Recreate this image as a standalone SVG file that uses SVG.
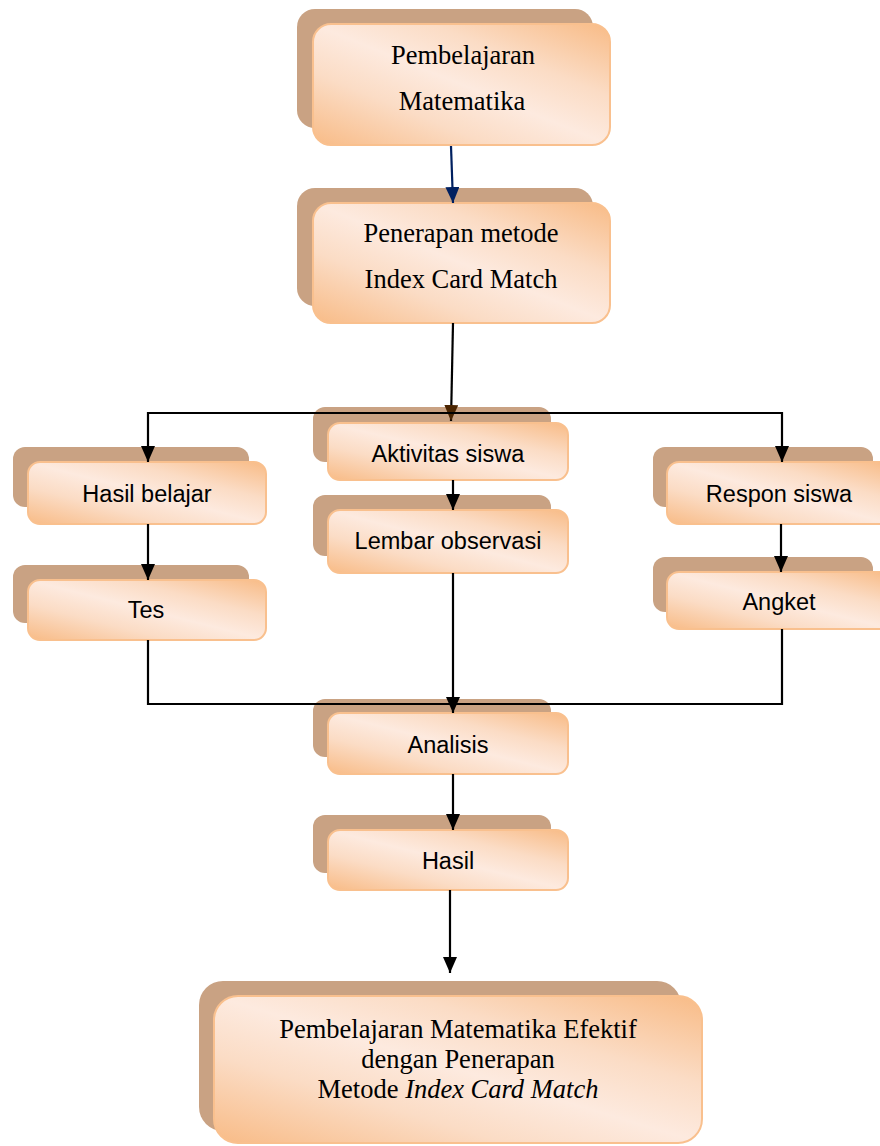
<svg xmlns="http://www.w3.org/2000/svg" width="880" height="1146" viewBox="0 0 880 1146">
<defs>
<linearGradient id="peach" x1="0" y1="1" x2="1" y2="0">
<stop offset="0" stop-color="#f8bb86"/>
<stop offset="0.3" stop-color="#fbdcc5"/>
<stop offset="0.5" stop-color="#fdeadf"/>
<stop offset="0.7" stop-color="#fbdcc5"/>
<stop offset="1" stop-color="#f8bb86"/>
</linearGradient>
<marker id="ah" markerUnits="userSpaceOnUse" markerWidth="16" markerHeight="14" refX="16" refY="7" orient="auto">
<path d="M0,0 L16,7 L0,14 z" fill="#000"/>
</marker>
<marker id="ahBlue" markerUnits="userSpaceOnUse" markerWidth="16" markerHeight="14" refX="16" refY="7" orient="auto">
<path d="M0,0 L16,7 L0,14 z" fill="#002060"/>
</marker>
<marker id="ahBrown" markerUnits="userSpaceOnUse" markerWidth="16" markerHeight="14" refX="16" refY="7" orient="auto">
<path d="M0,0 L16,7 L0,14 z" fill="#4a2400"/>
</marker>
</defs>
<style>
.sh{fill:#c9a283;}
.fr{fill:url(#peach);stroke:#f9c08e;stroke-width:2;}
.serif{font-family:"Liberation Serif","Times New Roman",serif;font-size:26.5px;fill:#000;text-anchor:middle;}
.sans{font-family:"Liberation Sans",Arial,sans-serif;font-size:23.5px;fill:#000;text-anchor:middle;}
.ln{fill:none;stroke:#000;stroke-width:2.2;}
</style>

<g id="n1">
<rect class="sh" x="297" y="9" width="296" height="119" rx="18"/>
<rect class="fr" x="313" y="24" width="297" height="121" rx="18"/>
<text class="serif" x="463" y="64">Pembelajaran</text>
<text class="serif" x="462" y="110">Matematika</text>
</g>

<g id="n2">
<rect class="sh" x="297" y="188" width="296" height="118" rx="18"/>
<rect class="fr" x="313" y="203" width="297" height="120" rx="18"/>
<text class="serif" x="461" y="242">Penerapan metode</text>
<text class="serif" x="461" y="288">Index Card Match</text>
</g>

<g id="n_aktivitas">
<rect class="sh" x="313" y="407" width="238" height="55" rx="12"/>
<rect class="fr" x="328" y="423" width="240" height="57" rx="12"/>
<text class="sans" x="448" y="462">Aktivitas siswa</text>
</g>

<g id="n_lembar">
<rect class="sh" x="313" y="495" width="238" height="61" rx="12"/>
<rect class="fr" x="328" y="510" width="240" height="63" rx="12"/>
<text class="sans" x="448" y="549">Lembar observasi</text>
</g>

<g id="n_hasilbelajar">
<rect class="sh" x="13" y="447" width="236" height="60" rx="12"/>
<rect class="fr" x="28" y="462" width="238" height="62" rx="12"/>
<text class="sans" x="147" y="502">Hasil belajar</text>
</g>

<g id="n_tes">
<rect class="sh" x="13" y="565" width="236" height="58" rx="12"/>
<rect class="fr" x="28" y="580" width="238" height="60" rx="12"/>
<text class="sans" x="146" y="618">Tes</text>
</g>

<g id="n_respon">
<rect class="sh" x="653" y="447" width="220" height="60" rx="12"/>
<rect class="fr" x="667" y="462" width="224" height="62" rx="12"/>
<text class="sans" x="779" y="502">Respon siswa</text>
</g>

<g id="n_angket">
<rect class="sh" x="653" y="557" width="220" height="55" rx="12"/>
<rect class="fr" x="667" y="572" width="224" height="57" rx="12"/>
<text class="sans" x="779" y="610">Angket</text>
</g>

<g id="n_analisis">
<rect class="sh" x="313" y="699" width="238" height="58" rx="12"/>
<rect class="fr" x="328" y="713" width="240" height="61" rx="12"/>
<text class="sans" x="448" y="753">Analisis</text>
</g>

<g id="n_hasil">
<rect class="sh" x="313" y="815" width="238" height="58" rx="12"/>
<rect class="fr" x="328" y="830" width="240" height="60" rx="12"/>
<text class="sans" x="448" y="869">Hasil</text>
</g>

<g id="n_final">
<rect class="sh" x="199" y="981" width="482" height="150" rx="24"/>
<rect class="fr" x="214" y="996" width="488" height="147" rx="24"/>
<text class="serif" x="458" y="1038">Pembelajaran Matematika Efektif</text>
<text class="serif" x="458" y="1068">dengan Penerapan</text>
<text class="serif" x="458" y="1098">Metode <tspan font-style="italic">Index Card Match</tspan></text>
</g>

<g id="connectors">
<path d="M451,146 L453,203" fill="none" stroke="#002060" stroke-width="2.2" marker-end="url(#ahBlue)"/>
<path class="ln" d="M453,323 L451,421" marker-end="url(#ahBrown)"/>
<path class="ln" d="M451,413 H148 V462" marker-end="url(#ah)"/>
<path class="ln" d="M451,413 H782 V462" marker-end="url(#ah)"/>
<path class="ln" d="M453,480 V510" marker-end="url(#ah)"/>
<path class="ln" d="M148,524 V580" marker-end="url(#ah)"/>
<path class="ln" d="M781,524 V572" marker-end="url(#ah)"/>
<path class="ln" d="M148,640 V704 H782 V629"/>
<path class="ln" d="M453,573 V713" marker-end="url(#ah)"/>
<path class="ln" d="M453,774 V830" marker-end="url(#ah)"/>
<path class="ln" d="M450,890 V973" marker-end="url(#ah)"/>
</g>
</svg>
